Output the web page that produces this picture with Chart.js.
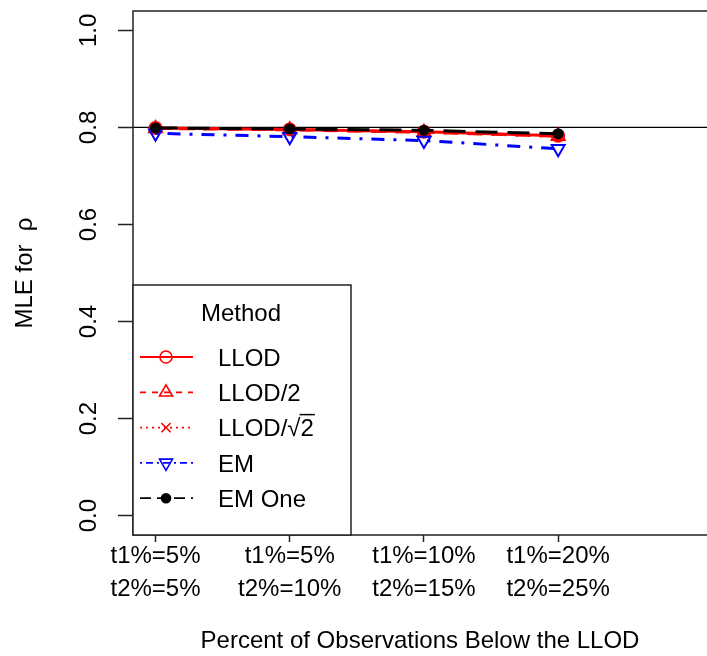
<!DOCTYPE html>
<html>
<head>
<meta charset="utf-8">
<script src="https://cdn.jsdelivr.net/npm/chart.js@4/dist/chart.umd.min.js"></script>
<style>
html, body { margin: 0; padding: 0; background: #fff; }
</style>
</head>
<body>
<canvas id="mainChart" width="707" height="656"></canvas>
<script>
// Datos
const categories = [
    ["t1%=5%", "t2%=5%"],
    ["t1%=5%", "t2%=10%"],
    ["t1%=10%", "t2%=15%"],
    ["t1%=20%", "t2%=25%"],
];
const categoryPositions = [1, 2, 3, 4];
const llod = [0.799, 0.796, 0.791, 0.783];
const llodHalf = [0.798, 0.795, 0.790, 0.782];
const llodSqrt2 = [0.798, 0.796, 0.790, 0.782];
const em = [0.788, 0.781, 0.773, 0.756];
const emOne = [0.799, 0.797, 0.794, 0.787];
const yTicks = [0, 0.2, 0.4, 0.6, 0.8, 1.0];
const trueRho = 0.8;

const FONT = "'Liberation Sans', Arial, sans-serif";

function toPoints(values) {
    return values.map((v, i) => ({ x: categoryPositions[i], y: v }));
}

const series = [
    { label: "LLOD", data: llod, color: "#ff0000", dash: [], legendDash: [], style: "circle", radius: 6, fill: "rgba(0,0,0,0)", rot: 0 },
    { label: "LLOD/2", data: llodHalf, color: "#ff0000", dash: [12, 12], legendDash: [6, 6], style: "triangle", radius: 7.5, fill: "rgba(0,0,0,0)", rot: 0 },
    { label: "LLOD/√2", data: llodSqrt2, color: "#ff0000", dash: [3, 9], legendDash: [2, 4], style: "crossRot", radius: 6.5, fill: "rgba(0,0,0,0)", rot: 0 },
    { label: "EM", data: em, color: "#0000ff", dash: [3, 9, 13, 9], legendDash: [2, 4, 7, 4], style: "triangle", radius: 7.5, fill: "rgba(0,0,0,0)", rot: 180 },
    { label: "EM One", data: emOne, color: "#000000", dash: [22, 10], legendDash: [11, 6], style: "circle", radius: 4.5, fill: "#000000", rot: 0 },
];

// Ejes en estilo R: caja, ticks y etiquetas rotadas, línea de referencia y leyenda
const rStylePlugin = {
    id: "rStyle",
    beforeDatasetsDraw(chart) {
        const { ctx, chartArea: a, scales } = chart;
        const yRef = scales.y.getPixelForValue(trueRho);
        ctx.save();
        ctx.strokeStyle = "#000";
        ctx.lineWidth = 1.3;
        ctx.beginPath();
        ctx.moveTo(a.left, yRef);
        ctx.lineTo(a.right, yRef);
        ctx.stroke();
        ctx.restore();
    },
    afterDraw(chart) {
        const { ctx, chartArea: a, scales } = chart;
        ctx.save();
        // caja
        ctx.strokeStyle = "#222";
        ctx.lineWidth = 1.5;
        ctx.strokeRect(a.left, a.top, a.right - a.left + 10, a.bottom - a.top);
        // etiquetas del eje y (rotadas)
        ctx.fillStyle = "#000";
        ctx.font = "24px " + FONT;
        ctx.textAlign = "center";
        ctx.textBaseline = "middle";
        yTicks.forEach((v) => {
            const y = scales.y.getPixelForValue(v);
            ctx.save();
            ctx.translate(89, y);
            ctx.rotate(-Math.PI / 2);
            ctx.fillText(v.toFixed(1), 0, 0);
            ctx.restore();
        });

        // leyenda
        const lx = 133, ly = 285, lw = 218, lh = a.bottom - 285;
        ctx.fillStyle = "#fff";
        ctx.fillRect(lx, ly, lw, lh);
        ctx.strokeStyle = "#222";
        ctx.lineWidth = 1.5;
        ctx.strokeRect(lx, ly, lw, lh);
        ctx.fillStyle = "#000";
        ctx.textAlign = "center";
        ctx.fillText("Method", 241, 314);
        ctx.textAlign = "left";
        series.forEach((s, i) => {
            const y = 357 + 35.3 * i;
            ctx.strokeStyle = s.color;
            ctx.lineWidth = 1.8;
            ctx.setLineDash(s.legendDash);
            ctx.beginPath();
            ctx.moveTo(140, y);
            ctx.lineTo(193, y);
            ctx.stroke();
            ctx.setLineDash([]);
            ctx.fillStyle = s.fill;
            ctx.lineWidth = 1.6;
            Chart.helpers.drawPoint(ctx, {
                pointStyle: s.style,
                radius: s.radius,
                rotation: s.rot,
                borderWidth: 1.6,
            }, 166, y);
            ctx.fillStyle = "#000";
            ctx.fillText(s.label, 218, y + 2);
            if (s.label === "LLOD/√2") {
                const x0 = 218 + ctx.measureText("LLOD/√").width;
                const x1 = 218 + ctx.measureText("LLOD/√2").width;
                ctx.strokeStyle = "#000";
                ctx.lineWidth = 1.5;
                ctx.beginPath();
                ctx.moveTo(x0 - 1, y - 13);
                ctx.lineTo(x1 + 1, y - 13);
                ctx.stroke();
            }
        });
        ctx.restore();
    },
};

const ctx = document.getElementById("mainChart").getContext("2d");
const chartInstance = new Chart(ctx, {
    type: "line",
    data: {
        datasets: series.map((s, i) => ({
            label: s.label,
            data: toPoints(s.data),
            borderColor: s.color,
            backgroundColor: s.fill,
            borderWidth: 3,
            borderDash: s.dash,
            pointStyle: s.style,
            pointRadius: s.radius,
            pointRotation: s.rot,
            pointBorderWidth: 2,
            pointBackgroundColor: s.fill,
            pointBorderColor: s.color,
            tension: 0,
            fill: false,
            order: series.length - i,
        })),
    },
    options: {
        responsive: false,
        animation: false,
        devicePixelRatio: 1,
        layout: { autoPadding: false, padding: { top: 11, left: 0, right: 0, bottom: 0 } },
        plugins: {
            legend: { display: false },
            tooltip: { enabled: false },
        },
        scales: {
            x: {
                type: "linear",
                min: 0.8323,
                max: 5.109,
                afterBuildTicks: (s) => {
                    s.ticks = categoryPositions.map((v) => ({ value: v }));
                },
                afterFit: (s) => {
                    s.height = 121;
                    s.paddingLeft = 0;
                    s.paddingRight = 0;
                },
                ticks: {
                    autoSkip: false,
                    maxRotation: 0,
                    minRotation: 0,
                    padding: -2,
                    color: "#000",
                    font: { family: FONT, size: 24, lineHeight: 1.375 },
                    callback: (v) => categories[categoryPositions.indexOf(v)] || "",
                },
                grid: {
                    drawOnChartArea: false,
                    drawTicks: true,
                    tickLength: 7,
                    tickWidth: 1.5,
                    tickColor: "#222",
                },
                border: { display: false },
                title: {
                    display: true,
                    text: "Percent of Observations Below the LLOD",
                    color: "#000",
                    font: { family: FONT, size: 24 },
                    padding: { top: 0, bottom: 0 },
                },
            },
            y: {
                min: -0.04,
                max: 1.04,
                afterBuildTicks: (s) => {
                    s.ticks = yTicks.map((v) => ({ value: v }));
                },
                afterFit: (s) => {
                    s.width = 133;
                    s.paddingTop = 0;
                    s.paddingBottom = 0;
                },
                ticks: { display: false },
                grid: {
                    drawOnChartArea: false,
                    drawTicks: true,
                    tickLength: 15,
                    tickWidth: 1.5,
                    tickColor: "#222",
                },
                border: { display: false },
                title: {
                    display: true,
                    text: "MLE for  ρ",
                    color: "#000",
                    font: { family: FONT, size: 24 },
                    padding: { top: 11, bottom: 0 },
                },
            },
        },
    },
    plugins: [rStylePlugin],
});
</script>
</body>
</html>
